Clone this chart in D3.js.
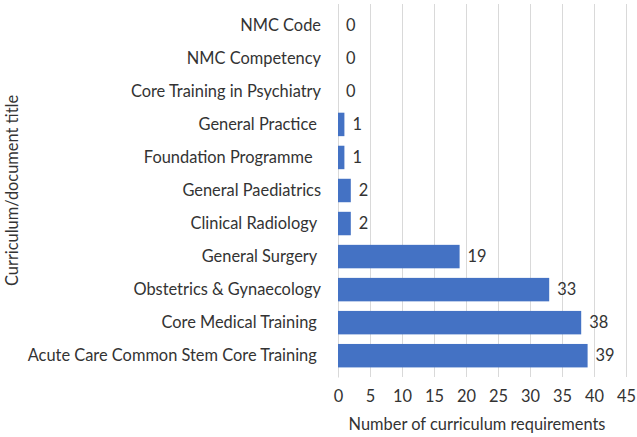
<!DOCTYPE html>
<html>
<head>
<meta charset="utf-8">
<script src="https://cdn.jsdelivr.net/npm/d3@7"></script>
<style>
  body { margin: 0; background: #fff; }
  text { font-family: Lato, "Open Sans", sans-serif; fill: #333; white-space: pre; }
</style>
</head>
<body>
<div id="chart"></div>
<script>
"use strict";

/* ── Data ── */
const categories = [
  "NMC Code",
  "NMC Competency",
  "Core Training in Psychiatry",
  "General Practice ",
  "Foundation Programme  ",
  "General Paediatrics",
  "Clinical Radiology ",
  "General Surgery ",
  "Obstetrics & Gynaecology",
  "Core Medical Training ",
  "Acute Care Common Stem Core Training "
];
const values = [0, 0, 0, 1, 1, 2, 2, 19, 33, 38, 39];
const xTicks = [0, 5, 10, 15, 20, 25, 30, 35, 40, 45];

const rows = categories.map((c, i) => ({ key: c, value: values[i] }));

/* ── Dimensions ── */
const W = 637, H = 437;
const margin = { top: 4, right: 11, bottom: 60, left: 338 };
const width  = W - margin.left - margin.right;
const height = H - margin.top - margin.bottom;
const FS = "16.4px";

const svg = d3.select("#chart").append("svg")
  .attr("width", W).attr("height", H);

const g = svg.append("g")
  .attr("transform", `translate(${margin.left},${margin.top})`);

/* ── Scales ── */
const x = d3.scaleLinear().domain([0, 45]).range([0, width]);
const y = d3.scaleBand().domain(categories).range([0, height]).padding(0.29);

/* ── Gridlines + x labels ── */
g.append("g")
  .attr("transform", `translate(0,${height})`)
  .call(d3.axisBottom(x).tickValues(xTicks).tickSize(-height).tickPadding(13))
  .call(a => {
    a.select(".domain").remove();
    a.selectAll(".tick line").attr("stroke", "#d9d9d9");
    a.selectAll(".tick text").attr("font-size", FS).attr("fill", "#333");
  });

/* ── Y axis ── */
g.append("g")
  .call(d3.axisLeft(y).tickSize(0).tickPadding(17))
  .call(a => {
    a.select(".domain").attr("stroke", "#d9d9d9");
    a.selectAll(".tick text").attr("font-size", FS).attr("fill", "#333");
  });

/* ── Bars ── */
g.selectAll(".bar")
  .data(rows)
  .join("rect")
  .attr("class", "bar")
  .attr("x", 0)
  .attr("y", d => y(d.key))
  .attr("height", y.bandwidth())
  .attr("width", d => x(d.value))
  .attr("fill", "#4472c4");

/* ── Value labels ── */
g.selectAll(".bar-label")
  .data(rows)
  .join("text")
  .attr("class", "bar-label")
  .attr("x", d => x(d.value) + 8)
  .attr("y", d => y(d.key) + y.bandwidth() / 2)
  .attr("dy", "0.35em")
  .attr("font-size", FS)
  .text(d => d.value);

/* ── Axis titles ── */
svg.append("text")
  .attr("x", margin.left + x(22.5) - 5)
  .attr("y", 430)
  .attr("text-anchor", "middle")
  .attr("font-size", FS)
  .text("Number of curriculum requirements");

svg.append("text")
  .attr("transform", `translate(18,${margin.top + height / 2}) rotate(-90)`)
  .attr("text-anchor", "middle")
  .attr("font-size", FS)
  .text("Curriculum/document title");
</script>
</body>
</html>
